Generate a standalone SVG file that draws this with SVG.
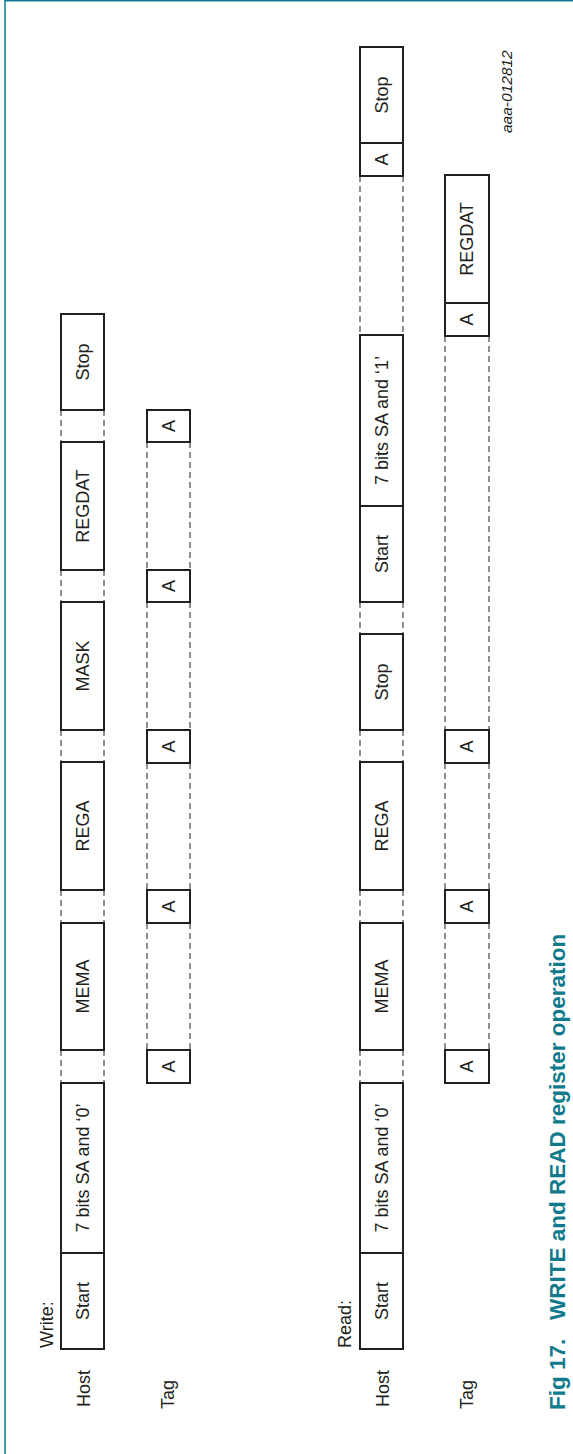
<svg xmlns="http://www.w3.org/2000/svg" width="573" height="1454" viewBox="0 0 573 1454">
<style>
.b{fill:#fff;stroke:#231f20;stroke-width:2}
.d{fill:none;stroke:#231f20;stroke-width:1;stroke-dasharray:6 4}
.t{font-family:"Liberation Sans",Arial,sans-serif;font-size:18px;fill:#231f20;text-anchor:middle}
.l{font-family:"Liberation Sans",Arial,sans-serif;font-size:18px;fill:#231f20}
.f{fill:none;stroke:#0f7a8c;stroke-width:1.5}
</style>
<rect width="573" height="1454" fill="#fff"/>
<path class="f" d="M5,1454V0.75H573"/>
<g id="connectors">
<path class="d" d="M61,410V442M104,410V442M61,570V602M104,570V602M61,730V762M104,730V762M61,890V923M104,890V923M61,1050V1083M104,1050V1083"/>
<path class="d" d="M147,442V570M190,442V570M147,602V730M190,602V730M147,763V890M190,763V890M147,923V1050M190,923V1050"/>
<path class="d" d="M360,176V335M403,176V335M360,602V634M403,602V634M360,730V762M403,730V762M360,890V923M403,890V923M360,1050V1083M403,1050V1083"/>
<path class="d" d="M445,336V730M489,336V730M445,763V890M489,763V890M445,923V1050M489,923V1050"/>
</g>
<g id="labels">
<text class="l" transform="translate(53,1348) rotate(-90)">Write:</text>
<text class="l" transform="translate(90,1407) rotate(-90)">Host</text>
<text class="l" transform="translate(174,1409) rotate(-90)">Tag</text>
<text class="l" transform="translate(351,1348) rotate(-90)">Read:</text>
<text class="l" transform="translate(389,1407) rotate(-90)">Host</text>
<text class="l" transform="translate(473,1409) rotate(-90)">Tag</text>
</g>
<g id="w-host-start"><rect class="b" x="61" y="1253" width="43" height="96"/><text class="t" transform="translate(88.9,1301) rotate(-90)">Start</text></g>
<g id="w-host-sa"><rect class="b" x="61" y="1083" width="43" height="170"/><text class="t" transform="translate(88.9,1168) rotate(-90)">7 bits SA and ‘0’</text></g>
<g id="w-host-mema"><rect class="b" x="61" y="923" width="43" height="127"/><text class="t" transform="translate(88.9,986.5) rotate(-90)">MEMA</text></g>
<g id="w-host-rega"><rect class="b" x="61" y="762" width="43" height="128"/><text class="t" transform="translate(88.9,826) rotate(-90)">REGA</text></g>
<g id="w-host-mask"><rect class="b" x="61" y="602" width="43" height="128"/><text class="t" transform="translate(88.9,666) rotate(-90)">MASK</text></g>
<g id="w-host-regdat"><rect class="b" x="61" y="442" width="43" height="128"/><text class="t" transform="translate(88.9,506) rotate(-90)">REGDAT</text></g>
<g id="w-host-stop"><rect class="b" x="61" y="314" width="43" height="96"/><text class="t" transform="translate(88.9,362) rotate(-90)">Stop</text></g>
<g id="w-tag-a1"><rect class="b" x="147" y="1050" width="43" height="33"/><text class="t" transform="translate(174.9,1066.5) rotate(-90)">A</text></g>
<g id="w-tag-a2"><rect class="b" x="147" y="890" width="43" height="33"/><text class="t" transform="translate(174.9,906.5) rotate(-90)">A</text></g>
<g id="w-tag-a3"><rect class="b" x="147" y="730" width="43" height="33"/><text class="t" transform="translate(174.9,746.5) rotate(-90)">A</text></g>
<g id="w-tag-a4"><rect class="b" x="147" y="570" width="43" height="32"/><text class="t" transform="translate(174.9,586) rotate(-90)">A</text></g>
<g id="w-tag-a5"><rect class="b" x="147" y="410" width="43" height="32"/><text class="t" transform="translate(174.9,426) rotate(-90)">A</text></g>
<g id="r-host-start"><rect class="b" x="360" y="1253" width="43" height="96"/><text class="t" transform="translate(387.9,1301) rotate(-90)">Start</text></g>
<g id="r-host-sa0"><rect class="b" x="360" y="1083" width="43" height="170"/><text class="t" transform="translate(387.9,1168) rotate(-90)">7 bits SA and ‘0’</text></g>
<g id="r-host-mema"><rect class="b" x="360" y="923" width="43" height="127"/><text class="t" transform="translate(387.9,986.5) rotate(-90)">MEMA</text></g>
<g id="r-host-rega"><rect class="b" x="360" y="762" width="43" height="128"/><text class="t" transform="translate(387.9,826) rotate(-90)">REGA</text></g>
<g id="r-host-stop1"><rect class="b" x="360" y="634" width="43" height="96"/><text class="t" transform="translate(387.9,682) rotate(-90)">Stop</text></g>
<g id="r-host-start2"><rect class="b" x="360" y="506" width="43" height="96"/><text class="t" transform="translate(387.9,554) rotate(-90)">Start</text></g>
<g id="r-host-sa1"><rect class="b" x="360" y="335" width="43" height="171"/><text class="t" transform="translate(387.9,420.5) rotate(-90)">7 bits SA and ‘1’</text></g>
<g id="r-host-a"><rect class="b" x="360" y="143" width="43" height="33"/><text class="t" transform="translate(387.9,159.5) rotate(-90)">A</text></g>
<g id="r-host-stop2"><rect class="b" x="360" y="47" width="43" height="96"/><text class="t" transform="translate(387.9,95) rotate(-90)">Stop</text></g>
<g id="r-tag-a1"><rect class="b" x="445" y="1050" width="44" height="33"/><text class="t" transform="translate(473.4,1066.5) rotate(-90)">A</text></g>
<g id="r-tag-a2"><rect class="b" x="445" y="890" width="44" height="33"/><text class="t" transform="translate(473.4,906.5) rotate(-90)">A</text></g>
<g id="r-tag-a3"><rect class="b" x="445" y="730" width="44" height="33"/><text class="t" transform="translate(473.4,746.5) rotate(-90)">A</text></g>
<g id="r-tag-a4"><rect class="b" x="445" y="303" width="44" height="33"/><text class="t" transform="translate(473.4,319.5) rotate(-90)">A</text></g>
<g id="r-tag-regdat"><rect class="b" x="445" y="175" width="44" height="128"/><text class="t" transform="translate(473.4,239) rotate(-90)">REGDAT</text></g>
<text transform="translate(512,133) rotate(-90)" font-family="Liberation Sans, Arial, sans-serif" font-size="15.5" font-style="italic" fill="#231f20">aaa-012812</text>
<text transform="translate(565,1410) rotate(-90)" font-family="Liberation Sans, Arial, sans-serif" font-size="22.5" font-weight="bold" fill="#0f7a8c" xml:space="preserve">Fig 17.   WRITE and READ register operation</text>
</svg>
